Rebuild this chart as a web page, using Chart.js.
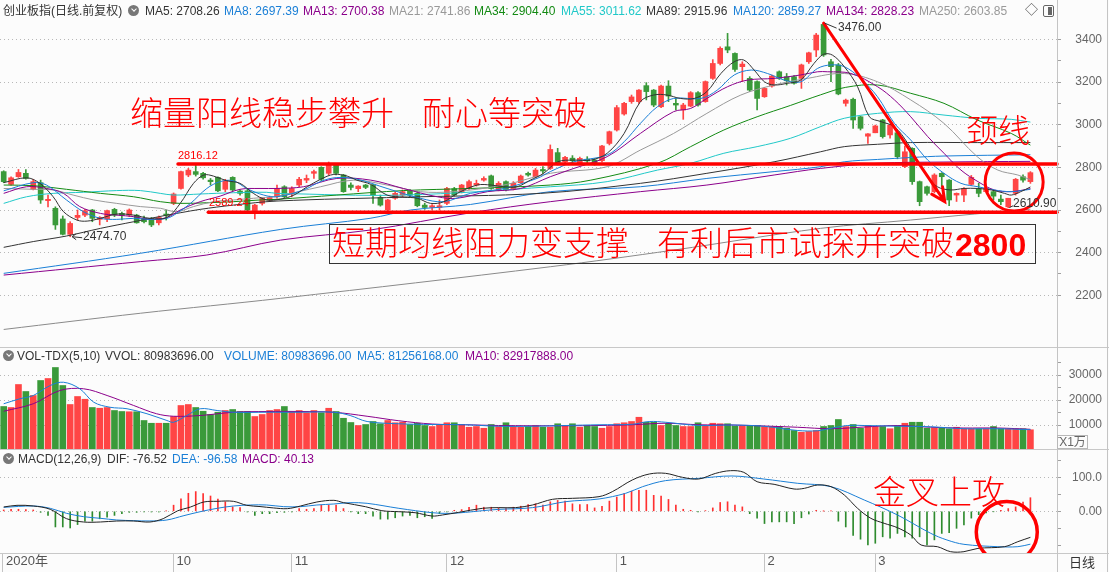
<!DOCTYPE html>
<html lang="zh-CN">
<head>
<meta charset="utf-8">
<title>创业板指 日线</title>
<script src="https://cdn.jsdelivr.net/npm/chart.js@4.4.1/dist/chart.umd.min.js"></script>
<style>
  html, body { margin: 0; padding: 0; background: #fcfcfc; }
  #board {
    position: relative; width: 1109px; height: 572px; overflow: hidden; background: #fcfcfc;
    font-family: "Liberation Sans", Arial, "Noto Sans CJK SC", sans-serif; font-size: 12px; color: #333;
  }
  #board canvas { position: absolute; left: 0; }
  #priceChart { top: 0; }
  #volChart { top: 347px; }
  #macdChart { top: 450px; }
  .t { position: absolute; white-space: nowrap; line-height: 14px; }
  .hl { position: absolute; left: 0; width: 1109px; height: 1px; background: #c8c8c8; }
  .vl { position: absolute; top: 0; width: 1px; height: 572px; background: #c4c4c4; }
  .knob { position: absolute; width: 11px; height: 11px; border-radius: 50%; background: #777; }
  .knob::after { content: ''; position: absolute; left: 3.5px; top: 2px; width: 3px; height: 3px;
    border-right: 1.5px solid #fff; border-bottom: 1.5px solid #fff; transform: rotate(45deg); }
  .note { position: absolute; white-space: nowrap; color: #ff0000; font-family: "Noto Sans CJK SC", sans-serif;
    font-weight: 300; font-size: 33px; line-height: 33px; }
  .tag { position: absolute; white-space: nowrap; font-size: 11px; line-height: 13px; }
</style>
</head>
<body>
<div id="board">
  <canvas id="priceChart" width="1109" height="347"></canvas>
  <canvas id="volChart" width="1109" height="103"></canvas>
  <canvas id="macdChart" width="1109" height="122"></canvas>

  <div class="hl" style="top:347px"></div>
  <div class="hl" style="top:449px"></div>
  <div class="hl" style="top:553px"></div>
  <div class="vl" style="left:1057px"></div>
  <div class="vl" style="left:1107px"></div>

  <!-- price header -->
  <span class="t" style="left:3px;top:4px">创业板指(日线.前复权)</span>
  <div class="knob" style="left:128px;top:5px"></div>
  <span class="t" style="left:145px;top:4px;color:#333">MA5: 2708.26</span>
  <span class="t" style="left:224px;top:4px;color:#1a7fd6">MA8: 2697.39</span>
  <span class="t" style="left:303px;top:4px;color:#8b008b">MA13: 2700.38</span>
  <span class="t" style="left:389px;top:4px;color:#999">MA21: 2741.86</span>
  <span class="t" style="left:474px;top:4px;color:#138a13">MA34: 2904.40</span>
  <span class="t" style="left:561px;top:4px;color:#20c8c8">MA55: 3011.62</span>
  <span class="t" style="left:646px;top:4px;color:#333">MA89: 2915.96</span>
  <span class="t" style="left:733px;top:4px;color:#1a7fd6">MA120: 2859.27</span>
  <span class="t" style="left:826px;top:4px;color:#8b008b">MA134: 2828.23</span>
  <span class="t" style="left:919px;top:4px;color:#999">MA250: 2603.85</span>
  <span class="t" style="left:1025px;top:3px;color:#555;font-size:13px">◇</span>
  <div style="position:absolute;left:1043px;top:5px;width:9px;height:10px;border:1px solid #666;border-radius:2px">
    <div style="position:absolute;right:1px;top:1px;width:4px;height:8px;background:#666"></div>
  </div>

  <!-- volume header -->
  <div class="knob" style="left:3px;top:350px"></div>
  <span class="t" style="left:17px;top:349px">VOL-TDX(5,10)</span>
  <span class="t" style="left:105px;top:349px">VVOL: 80983696.00</span>
  <span class="t" style="left:224px;top:349px;color:#1a7fd6">VOLUME: 80983696.00</span>
  <span class="t" style="left:357px;top:349px;color:#1a7fd6">MA5: 81256168.00</span>
  <span class="t" style="left:465px;top:349px;color:#8b008b">MA10: 82917888.00</span>
  <div style="position:absolute;left:1057px;top:435px;width:31px;height:14px;border:1px solid #b8b8b8;box-sizing:border-box;color:#666;font-size:12px;line-height:12px;text-align:center">X1万</div>

  <!-- macd header -->
  <div class="knob" style="left:3px;top:453px"></div>
  <span class="t" style="left:18px;top:452px">MACD(12,26,9)</span>
  <span class="t" style="left:107px;top:452px">DIF: -76.52</span>
  <span class="t" style="left:172px;top:452px;color:#1a7fd6">DEA: -96.58</span>
  <span class="t" style="left:242px;top:452px;color:#8b008b">MACD: 40.13</span>
  <div style="position:absolute;left:1057px;top:553px;width:50px;height:19px;color:#333;font-size:13px;line-height:19px;text-align:center">日线</div>

  <!-- price tags -->
  <span class="tag" style="left:178px;top:149px;color:#f00">2816.12</span>
  <span class="tag" style="left:209px;top:196px;color:#f00">2589.24</span>
  <span class="tag" style="left:83px;top:230px;font-size:12px;color:#333">2474.70</span>
  <span class="tag" style="left:838px;top:21px;font-size:12px;color:#333">3476.00</span>
  <span class="tag" style="left:1013px;top:197px;font-size:12px;color:#333">2610.90</span>

  <!-- hand-drawn notes -->
  <span class="note" style="left:130px;top:95px">缩量阳线稳步攀升</span>
  <span class="note" style="left:422px;top:95px">耐心等突破</span>
  <span class="note" style="left:966px;top:112px;font-size:32px">颈线</span>
  <div style="position:absolute;left:329px;top:224px;width:707px;height:40px;border:1px solid #333;box-sizing:border-box"></div>
  <span class="note" style="left:332px;top:225px">短期均线阻力变支撑</span>
  <span class="note" style="left:657px;top:225px">有利后市试探并突破</span>
  <span class="note" style="left:955px;top:229px;font-family:'Liberation Sans',Arial,sans-serif;font-weight:bold;font-size:32px;line-height:32px">2800</span>
  <span class="note" style="left:873px;top:474px">金叉上攻</span>
</div>

<script>
// 创业板指 daily bars, 2020-09 .. 2021-03 (140 sessions)
const opens = [
  2780, 2720, 2756, 2772, 2697, 2728, 2644, 2608, 2558, 2486,
  2565, 2576, 2600, 2556, 2558, 2603, 2584, 2576, 2576, 2561,
  2556, 2540, 2581, 2631, 2701, 2764, 2780, 2772, 2740, 2753,
  2697, 2753, 2689, 2690, 2597, 2631, 2647, 2662, 2709, 2675,
  2717, 2740, 2772, 2800, 2772, 2811, 2764, 2717, 2700, 2717,
  2717, 2659, 2600, 2655, 2670, 2690, 2678, 2623, 2612, 2612,
  2631, 2700, 2686, 2701, 2717, 2740, 2760, 2694, 2733, 2697,
  2728, 2772, 2756, 2790, 2795, 2869, 2826, 2843, 2819, 2838,
  2834, 2831, 2912, 2975, 3050, 3108, 3108, 3183, 3162, 3084,
  3181, 3100, 3069, 3087, 3150, 3108, 3217, 3287, 3365, 3334,
  3272, 3217, 3202, 3131, 3181, 3248, 3225, 3225, 3217, 3295,
  3350, 3470, 3295, 3280, 3100, 3119, 3037, 2946, 2962, 3022,
  2952, 2962, 2803, 2889, 2733, 2709, 2686, 2772, 2740, 2670,
  2670, 2720, 2701, 2686, 2686, 2651, 2615, 2678, 2756, 2733
];
const highs = [
  2784, 2755, 2790, 2790, 2744, 2740, 2670, 2615, 2572, 2545,
  2600, 2603, 2603, 2569, 2600, 2608, 2590, 2605, 2580, 2572,
  2565, 2572, 2600, 2680, 2782, 2795, 2816.12, 2776, 2748, 2756,
  2744, 2756, 2694, 2697, 2626, 2659, 2665, 2717, 2714, 2709,
  2753, 2764, 2787, 2803, 2825, 2816, 2767, 2727, 2714, 2720,
  2720, 2670, 2650, 2686, 2694, 2697, 2686, 2632, 2625, 2647,
  2706, 2706, 2720, 2740, 2740, 2756, 2764, 2733, 2737, 2733,
  2764, 2778, 2795, 2803, 2905, 2889, 2852, 2855, 2848, 2850,
  2840, 2903, 2970, 3090, 3105, 3139, 3165, 3197, 3165, 3186,
  3206, 3123, 3100, 3155, 3155, 3205, 3305, 3365, 3428, 3337,
  3295, 3225, 3205, 3175, 3232, 3252, 3240, 3230, 3284, 3340,
  3428, 3476, 3306, 3287, 3120, 3125, 3040, 2958, 2998, 3025,
  3002, 2965, 2900, 2892, 2736, 2712, 2770, 2775, 2743, 2680,
  2705, 2762, 2725, 2706, 2690, 2670, 2655, 2748, 2765, 2780
];
const lows = [
  2728, 2716, 2753, 2745, 2694, 2631, 2615, 2509, 2483, 2474.7,
  2553, 2569, 2545, 2530, 2545, 2569, 2553, 2569, 2538, 2540,
  2522, 2530, 2553, 2625, 2698, 2756, 2759, 2745, 2717, 2686,
  2686, 2690, 2670, 2597, 2558, 2623, 2640, 2655, 2658, 2662,
  2709, 2728, 2748, 2737, 2764, 2764, 2683, 2694, 2686, 2700,
  2631, 2618, 2593, 2650, 2662, 2662, 2615, 2603, 2600, 2600,
  2625, 2665, 2680, 2697, 2712, 2735, 2697, 2690, 2690, 2694,
  2725, 2758, 2752, 2772, 2790, 2811, 2815, 2820, 2815, 2817,
  2810, 2825, 2905, 2970, 3045, 3100, 3100, 3116, 3084, 3080,
  3108, 3069, 3025, 3084, 3087, 3105, 3212, 3280, 3337, 3250,
  3202, 3155, 3069, 3128, 3176, 3212, 3186, 3190, 3170, 3287,
  3319, 3320, 3202, 3140, 3087, 2983, 2975, 2912, 2962, 2937,
  2937, 2840, 2798, 2720, 2620, 2670, 2680, 2710, 2620, 2640,
  2639, 2716, 2662, 2680, 2647, 2625, 2610.9, 2670, 2730, 2725
];
const closes = [
  2733, 2751, 2776, 2748, 2733, 2647, 2650, 2530, 2486, 2537,
  2575, 2597, 2561, 2565, 2597, 2576, 2575, 2600, 2540, 2545,
  2530, 2565, 2575, 2675, 2780, 2787, 2767, 2751, 2733, 2690,
  2737, 2694, 2678, 2600, 2623, 2655, 2659, 2701, 2662, 2701,
  2744, 2748, 2780, 2744, 2811, 2772, 2686, 2706, 2712, 2706,
  2670, 2623, 2647, 2678, 2686, 2670, 2620, 2612, 2620, 2620,
  2701, 2670, 2717, 2733, 2725, 2748, 2701, 2725, 2694, 2725,
  2759, 2764, 2787, 2783, 2884, 2819, 2847, 2831, 2842, 2830,
  2815, 2900, 2967, 3080, 3100, 3130, 3162, 3155, 3092, 3181,
  3134, 3092, 3092, 3150, 3092, 3202, 3287, 3358, 3350, 3259,
  3284, 3162, 3123, 3170, 3228, 3217, 3206, 3194, 3280, 3337,
  3420, 3327, 3272, 3144, 3115, 3022, 2983, 2957, 2994, 2944,
  2998, 2850, 2873, 2733, 2639, 2678, 2764, 2756, 2647, 2678,
  2701, 2753, 2678, 2701, 2665, 2639, 2655, 2744, 2740, 2775
];
// volume in 万 (axis unit X1万)
const volumes = [
  17400, 17000, 26200, 23400, 21800, 27800, 28600, 33000, 25800, 18200,
  21400, 20300, 17000, 16700, 17000, 15800, 15400, 15300, 15300, 11800,
  10700, 10700, 10700, 13400, 17800, 18200, 17000, 15500, 14200, 15100,
  15800, 16200, 15400, 15400, 13400, 14200, 15800, 16200, 17400, 15400,
  15800, 14900, 15800, 14900, 16700, 15400, 12700, 11000, 9800, 10200,
  11400, 10500, 11800, 10900, 11100, 10200, 10700, 9800, 9400, 10200,
  10900, 10900, 10200, 9100, 9400, 8700, 10200, 9400, 10900, 9400,
  9100, 9400, 9800, 9100, 9100, 10500, 9800, 10500, 9100, 9800,
  9400, 8700, 9400, 10500, 10900, 11400, 13100, 11100, 11100, 9800,
  10700, 9800, 9400, 9400, 10900, 9800, 10700, 10500, 10500, 9500,
  9500, 9800, 9800, 9400, 9400, 9400, 8700, 7800, 7100, 7400,
  7800, 9400, 9800, 12200, 9400, 10200, 8700, 9800, 9400, 9400,
  8500, 9800, 10700, 11100, 11100, 8700, 8700, 8700, 8500, 9100,
  8500, 8500, 8500, 8500, 9400, 8500, 8500, 8500, 8500, 8098
];
const macdHist = [
  4, 6, 6, 5, 4, -3, -12, -46, -46, -49,
  -39, -29, -29, -22, -17, -12, -7, -3, -3, -2,
  -2, -2, 1, 18, 37, 53, 58, 52, 45, 36,
  28, 13, 11, -2, -12, -7, -7, -4, -3, -2,
  8, 6, 8, 18, 18, 18, 8, -1, -7, -7,
  -14, -23, -23, -19, -14, -12, -19, -16, -21, -7,
  -2, 3, 5, 12, 18, 12, 12, 10, 8, 12,
  15, 20, 22, 18, 28, 32, 30, 22, 20, 20,
  10, 15, 30, 42, 52, 59, 62, 62, 47, 45,
  35, 18, 6, 3, -1, 2, 10, 26, 28, 18,
  13, -7, -20, -36, -31, -31, -31, -36, -19, -8,
  3, 0.5, 1, -29, -46, -71, -82, -99, -94, -75,
  -79, -65, -75, -79, -75, -99, -84, -65, -63, -50,
  -40, -20, -10, -5, -1, 3, 8, 13, 27, 40
];
// MACD lines, [bar index, value]
const difLine = [[0,12.7],[1.8,17.6],[4,15.7],[6.3,5.9],[8.5,-21.6],[10.8,-31.4],[13.1,-31.4],[15.3,-28.5],[17.6,-28.5],
  [19.8,-31.4],[21.6,-21.6],[23.5,1],[25.3,12.7],[27.1,27.4],[28.9,29.4],[31.1,29.4],[32.9,17.6],[34.7,14],[36.5,10],
  [38.4,7.8],[40.2,15.7],[42.4,27.4],[44.7,32.3],[46,25.5],[49,13.5],[51.2,1.8],[53.5,-1.2],[55.7,-4.1],[58,-13.9],
  [59.4,-10.8],[61.6,-3.1],[64.8,8.8],[67,10.8],[69.3,10.8],[71.6,18.6],[74.3,35.3],[77,38.2],[80.6,43.1],[82.4,57.8],
  [85.1,92.1],[87.4,109.7],[89.6,111.7],[91.9,99.9],[94.1,95],[96.4,111.7],[98.4,119.5],[100.2,114.6],[102,87],
  [104.3,79.4],[107,65.6],[108.4,67.6],[110.2,77.4],[112,72.5],[113.8,48],[115.6,8.8],[117.4,-20.6],[119.2,-35.3],
  [121,-48.2],[122.8,-69.7],[124.2,-99.1],[126.4,-104],[128.2,-118.7],[130,-118.7],[131.9,-109],[135.5,-104],
  [137.3,-89.3],[139,-76.5]];
const deaLine = [[0,11.7],[4,15.6],[6.3,8.8],[8.5,-5.9],[10.8,-15.7],[13.1,-20.6],[15.3,-25.5],[17.6,-27.5],[19.8,-28.4],
  [22.1,-25.5],[24.4,-12.7],[26.6,-1.2],[28.9,8.8],[31.1,15.6],[33.4,18.6],[35.6,18.6],[37.9,13.7],[40.2,13.7],[42.4,18.6],
  [44.7,21.5],[46.9,25.4],[49.2,23.5],[53.5,8.8],[58,-4.1],[60.3,-6.1],[62.5,-3.1],[64.8,1.8],[67,5.7],[71.6,10.8],
  [76.1,28.4],[80.6,36.3],[84.2,52.9],[86.5,72.5],[89.6,90.2],[94.1,97],[98.6,103.9],[102.9,95],[107.5,82.3],[112,72.5],
  [116.5,33.3],[121,-10.8],[125.5,-64.7],[127.7,-84.3],[130,-97.1],[134.6,-104],[137.3,-104],[139,-96.6]];
// price moving averages, [bar index, value]
const ma5Line = [[0,2728],[3.1,2751],[4.9,2725],[6.7,2662],[8.1,2592],[9.9,2553],[11.3,2548],[13.1,2561],[15.3,2581],
  [17.6,2576],[19.8,2561],[22.1,2565],[23.9,2631],[25.7,2725],[27.1,2764],[28.4,2759],[30.2,2737],[32,2725],[33.8,2678],
  [35.6,2647],[37.5,2651],[39.3,2670],[41.1,2709],[42.9,2744],[44.7,2767],[46.5,2759],[47.8,2740],[49.7,2720],[51.9,2670],
  [54.2,2660],[56,2655],[57.8,2631],[59.6,2639],[61.4,2678],[64.1,2717],[66,2717],[67.7,2709],[69.5,2709],[71.3,2740],
  [73.1,2772],[75,2826],[77.2,2834],[79.5,2834],[81.7,2866],[84,2959],[86.2,3108],[88,3139],[89.8,3139],[91.6,3123],
  [93.5,3123],[95.2,3155],[97.1,3240],[98.9,3295],[100.2,3303],[101.6,3256],[103,3201],[104.3,3186],[106.1,3194],
  [107.9,3209],[109.7,3287],[111,3330],[112.2,3326],[113.8,3272],[115.6,3178],[117.2,3037],[118.8,3014],[120.6,2990],
  [122.4,2912],[124.2,2803],[125.1,2756],[126.4,2709],[128.2,2694],[130,2701],[131.8,2701],[133.7,2694],[135.5,2678],
  [136.4,2670],[137.7,2686],[139,2708]];
const ma8Line = [[0,2690],[4,2728],[5.8,2717],[8.5,2647],[10.8,2592],[13.1,2561],[15.3,2556],[17.6,2561],[19.8,2556],
  [22.1,2561],[23.4,2584],[25.3,2631],[27.5,2701],[29.3,2733],[31.1,2737],[32.9,2701],[35.2,2670],[37,2662],[40.6,2694],
  [43,2735],[45.1,2752],[47.8,2745],[51.9,2701],[56.4,2655],[59.6,2639],[63.2,2678],[67.7,2701],[72.2,2748],[74,2780],
  [77.2,2826],[81.7,2858],[84,2920],[86.2,3006],[88.5,3084],[90.7,3123],[94.4,3123],[96.6,3162],[98.9,3233],[101.2,3256],
  [103.4,3240],[105.7,3209],[107.9,3201],[110.2,3264],[112,3280],[113.8,3272],[116,3217],[118.3,3131],[120.6,3006],
  [122.8,2928],[125.1,2834],[127.3,2772],[129.6,2725],[131.9,2709],[134.1,2694],[136.4,2686],[139,2697]];
const ma13Line = [[0,2678],[3.1,2709],[5.8,2701],[8.1,2678],[10.3,2616],[13.1,2584],[15.3,2576],[17.6,2569],[19.8,2556],
  [22.1,2565],[23.9,2600],[26.6,2639],[29.3,2665],[32,2697],[34.7,2701],[37,2701],[40.6,2709],[45.1,2748],[49.7,2740],
  [54.1,2701],[58.7,2662],[61.4,2655],[65.5,2686],[70,2701],[74,2756],[77.2,2795],[81.7,2850],[86.2,2959],[90.7,3061],
  [93,3076],[95.2,3123],[98,3178],[100.7,3209],[104.3,3217],[107.9,3233],[110.2,3248],[111.5,3248],[114.7,3240],
  [118.3,3178],[120.6,3116],[122.8,3037],[125.1,2944],[127.3,2866],[129.6,2787],[131.9,2733],[134.1,2694],[136.4,2686],
  [139,2700]];
const ma21Line = [[0,2701],[4,2697],[6.7,2694],[9.4,2670],[12.2,2647],[15.3,2631],[18.5,2616],[21.2,2608],[23.4,2592],
  [25.7,2616],[28.4,2639],[31.1,2647],[33.8,2655],[37,2665],[42.9,2709],[47.4,2740],[51.9,2717],[56.4,2686],[60.9,2686],
  [67.7,2717],[74,2772],[81.7,2803],[86.2,2881],[90.7,2959],[95.2,3053],[99.8,3139],[104.3,3186],[108.8,3217],
  [113.8,3240],[118.3,3201],[122.8,3116],[127.3,3006],[131.8,2850],[134.6,2787],[137.3,2764],[139,2742]];
const ma34Line = [[0,2717],[4,2714],[8.5,2697],[13.1,2678],[17.6,2662],[21.2,2639],[23.9,2631],[27.5,2634],[31.1,2639],
  [34.7,2647],[37,2650],[45.1,2670],[54.1,2691],[63.2,2701],[74,2717],[79.5,2740],[88.5,2819],[93,2897],[97.5,2975],
  [102,3037],[106.5,3090],[110.6,3140],[114,3175],[118.3,3186],[122.8,3147],[127.3,3100],[131.8,3022],[136.4,2959],
  [139,2904]];
const ma55Line = [[0,2631],[3.1,2662],[6.7,2678],[10.8,2683],[15.3,2691],[18.5,2691],[21.2,2678],[23,2670],[26.6,2675],
  [31.1,2681],[35.6,2683],[37,2678],[54.1,2670],[74,2709],[81.7,2733],[88.5,2787],[93,2819],[97.5,2866],[102,2897],
  [106.5,2936],[110.6,2991],[113.8,3030],[118.3,3053],[122.8,3061],[127.3,3045],[131.8,3030],[136.4,3025],[139,3012]];
const ma89Line = [[0,2425],[4,2452],[8.5,2478],[13.1,2514],[17.6,2545],[22.1,2576],[23.9,2587],[26.6,2603],[31.1,2623],
  [37,2642],[54,2660],[72.7,2678],[86.2,2725],[95.2,2772],[104.3,2826],[110.6,2873],[113.8,2897],[118.3,2908],
  [122.8,2916],[131.8,2916],[139,2916]];
const ma120Line = [[0,2303],[18.5,2397],[37.5,2509],[49.6,2561],[55.1,2600],[63.2,2626],[74,2686],[86.2,2709],[95.2,2748],
  [104.3,2780],[110.6,2803],[113.8,2826],[118.3,2837],[122.8,2846],[127.3,2853],[139,2859]];
const ma134Line = [[0,2295],[18.5,2358],[27.5,2389],[37.5,2459],[49.6,2506],[63.2,2587],[74,2639],[86.2,2686],[95.2,2717],
  [104.3,2764],[110.6,2795],[118.3,2819],[127.3,2825],[139,2828]];
const ma250Line = [[0,2040],[18.5,2116],[37.5,2186],[74,2334],[90.7,2412],[110.6,2514],[122.8,2553],[131.4,2581],[139,2604]];
// volume moving averages, [bar index, value]
const volMa5Line = [[0,18500],[2.2,20500],[4,21800],[6.3,25800],[8.1,27100],[10.3,24500],[12.2,19100],[14.4,17100],
  [16.7,16500],[19.4,14500],[22.1,11800],[23,11100],[24.8,13800],[26.6,16500],[28.9,15800],[31.1,15100],[35.6,15100],
  [40.2,15100],[44.7,15100],[46.9,13800],[49.2,11400],[53.5,10500],[58,10200],[62.5,10100],[67,9500],[71.6,9500],
  [76.1,9800],[80.6,10100],[85.1,10300],[87.4,11400],[89.6,11100],[94.1,9800],[98.6,10000],[102.9,9500],[107.5,7800],
  [110.2,7700],[112,8700],[114.2,9800],[116.5,9800],[121,9500],[125.5,9300],[130,8500],[134.6,8500],[139,8126]];
const volMa10Line = [[0,15500],[4,18500],[7.6,23800],[10.8,24500],[14,21800],[17.6,17800],[20.7,14500],[23,13500],
  [26.6,13800],[31.1,15100],[35.6,15400],[40.2,15400],[44.7,15100],[49.2,13500],[53.5,11700],[58,10400],[62.5,10100],
  [67,9800],[71.6,9700],[76.1,9700],[80.6,9800],[85.1,10100],[89.6,10700],[94.1,10100],[98.6,10000],[107.5,9100],
  [112,8500],[116.5,9200],[121,9800],[125.5,9100],[130,8800],[134.6,8800],[139,8292]];

// axis labels
const monthTicks = [-0.1, 23, 39, 60, 83, 103, 118];
const monthLabels = ['2020年', '10', '11', '12', '1', '2', '3'];
const priceTicks = [2200, 2400, 2600, 2800, 3000, 3200, 3400];
const volTicks = [10000, 20000, 30000];
const macdTicks = [0, 100];
const macdTickLabels = ['0.00', '100.0'];

// hand-drawn marks, in data units
const levelLines = [{ value: 2816.12, from: 23.6 }, { value: 2589.24, from: 27.7 }];
const trendArrow = { from: [111, 3476], to: [127.4, 2639] };
const priceRing = { x: 136.8, y: 2731, r: 29 };
const macdRing = { x: 135.8, y: -61, r: 30.5 };

const X_MIN = -0.5, X_MAX = 142.6;
const UP = '#ff4545', DOWN = '#3a9a3a';
const GRID = '#b8b8b8';

Chart.defaults.font.family = '"Liberation Sans", Arial, sans-serif';
Chart.defaults.font.size = 12;
Chart.defaults.color = '#666';

const candleColors = closes.map((c, i) => (c >= opens[i] ? UP : DOWN));
const pts = arr => arr.map(([x, y]) => ({ x, y }));

function lineSet(arr, color, width = 1) {
  return { type: 'line', data: pts(arr), borderColor: color, borderWidth: width, pointRadius: 0,
           tension: 0.35, fill: false, order: 0 };
}

function hiddenX() {
  return { type: 'linear', min: X_MIN, max: X_MAX, offset: false, display: false, grid: { offset: false } };
}

function sideAxis(min, max, allTicks, labelled, fmt) {
  return {
    type: 'linear', position: 'right', min, max,
    afterBuildTicks: s => { s.ticks = allTicks.map(v => ({ value: v })); },
    afterFit: s => { s.width = 45; s.paddingTop = 0; s.paddingBottom = 0; },
    border: { display: false, dash: [1, 3] },
    grid: {
      color: c => (c.tick && labelled.includes(c.tick.value) ? GRID : 'rgba(0,0,0,0)'),
      tickColor: '#a0a0a0', tickLength: 4
    },
    ticks: {
      autoSkip: false, crossAlign: 'far', color: '#666', font: { size: 12 },
      callback: v => { const k = labelled.indexOf(v); return k < 0 ? '' : fmt(v, k); }
    }
  };
}

function steps(lo, hi, step) {
  const out = [];
  for (let v = lo; v <= hi; v += step) out.push(v);
  return out;
}

const base = {
  responsive: false, maintainAspectRatio: false, animation: false, devicePixelRatio: 1, events: [],
  layout: { padding: { left: 0, right: 7, top: 0, bottom: 0 } },
  plugins: { legend: { display: false }, tooltip: { enabled: false } }
};

const priceMarks = {
  id: 'priceMarks',
  afterDatasetsDraw(chart) {
    const { ctx, chartArea: a, scales: { x, y } } = chart;
    ctx.save();
    ctx.strokeStyle = '#ff0000';
    ctx.lineCap = 'round';
    ctx.lineWidth = 3.5;
    levelLines.forEach(l => {
      const py = y.getPixelForValue(l.value);
      ctx.beginPath();
      ctx.moveTo(x.getPixelForValue(l.from), py);
      ctx.lineTo(a.right, py);
      ctx.stroke();
    });

    const x1 = x.getPixelForValue(trendArrow.from[0]), y1 = y.getPixelForValue(trendArrow.from[1]);
    const x2 = x.getPixelForValue(trendArrow.to[0]), y2 = y.getPixelForValue(trendArrow.to[1]);
    const ang = Math.atan2(y2 - y1, x2 - x1);
    ctx.lineWidth = 3;
    ctx.beginPath();
    ctx.moveTo(x1, y1);
    ctx.lineTo(x2, y2);
    ctx.moveTo(x2 - 15 * Math.cos(ang - 0.45), y2 - 15 * Math.sin(ang - 0.45));
    ctx.lineTo(x2, y2);
    ctx.lineTo(x2 - 15 * Math.cos(ang + 0.45), y2 - 15 * Math.sin(ang + 0.45));
    ctx.stroke();

    ctx.beginPath();
    ctx.arc(x.getPixelForValue(priceRing.x), y.getPixelForValue(priceRing.y), priceRing.r, 0, Math.PI * 2);
    ctx.stroke();

    // little leaders from the extreme bars to their price tags
    ctx.strokeStyle = '#333';
    ctx.lineWidth = 1;
    ctx.lineCap = 'butt';
    const lo = { px: x.getPixelForValue(9), py: y.getPixelForValue(lows[9]) };
    ctx.beginPath();
    ctx.moveTo(lo.px + 2, lo.py); ctx.lineTo(lo.px + 12, lo.py + 1);
    ctx.moveTo(lo.px + 6, lo.py - 3); ctx.lineTo(lo.px + 2, lo.py); ctx.lineTo(lo.px + 6, lo.py + 3);
    const hi = { px: x.getPixelForValue(111), py: y.getPixelForValue(highs[111]) };
    ctx.moveTo(hi.px + 1, hi.py); ctx.lineTo(hi.px + 13, hi.py + 5);
    const lo2 = { px: x.getPixelForValue(136), py: y.getPixelForValue(lows[136]) };
    ctx.moveTo(lo2.px + 1, lo2.py); ctx.lineTo(lo2.px + 5, lo2.py - 2);
    ctx.stroke();
    ctx.restore();
  }
};

const macdMarks = {
  id: 'macdMarks',
  afterDatasetsDraw(chart) {
    const { ctx, chartArea: a, scales: { x, y } } = chart;
    ctx.save();
    ctx.beginPath();
    ctx.rect(a.left, a.top, a.right - a.left, a.bottom - a.top);
    ctx.clip();
    ctx.strokeStyle = '#ff0000';
    ctx.lineWidth = 3.5;
    ctx.beginPath();
    ctx.arc(x.getPixelForValue(macdRing.x), y.getPixelForValue(macdRing.y), macdRing.r, 0, Math.PI * 2);
    ctx.stroke();
    ctx.restore();
  }
};

// ---- price pane ----
new Chart(document.getElementById('priceChart'), {
  type: 'bar',
  data: {
    datasets: [
      lineSet(ma5Line, '#333333'),
      lineSet(ma8Line, '#1a7fd6'),
      lineSet(ma13Line, '#8b008b'),
      lineSet(ma21Line, '#999999'),
      lineSet(ma34Line, '#138a13'),
      lineSet(ma55Line, '#20c8c8'),
      lineSet(ma89Line, '#333333'),
      lineSet(ma120Line, '#1a7fd6'),
      lineSet(ma134Line, '#8b008b'),
      lineSet(ma250Line, '#8a8a8a'),
      { type: 'bar', data: lows.map((l, i) => ({ x: i, y: [l, highs[i]] })), backgroundColor: candleColors,
        barThickness: 1, grouped: false, borderWidth: 0, order: 2 },
      { type: 'bar', data: opens.map((o, i) => ({ x: i, y: [o, closes[i]] })), backgroundColor: candleColors,
        barThickness: 5, grouped: false, borderWidth: 0, minBarLength: 1, order: 1 }
    ]
  },
  options: {
    ...base,
    scales: {
      x: hiddenX(),
      y: sideAxis(1957.8, 3584.4, steps(2200, 3400, 100), priceTicks, v => String(v))
    }
  },
  plugins: [priceMarks]
});

// ---- volume pane ----
new Chart(document.getElementById('volChart'), {
  type: 'bar',
  data: {
    datasets: [
      lineSet(volMa5Line, '#1a7fd6'),
      lineSet(volMa10Line, '#8b008b'),
      { type: 'bar', data: volumes.map((v, i) => ({ x: i, y: v })), backgroundColor: candleColors,
        barThickness: 6, grouped: false, borderWidth: 0, order: 1 }
    ]
  },
  options: {
    ...base,
    scales: {
      x: hiddenX(),
      y: sideAxis(0, 41200, steps(5000, 35000, 5000), volTicks, v => String(v))
    }
  }
});

// ---- MACD pane with the date axis ----
new Chart(document.getElementById('macdChart'), {
  type: 'bar',
  data: {
    datasets: [
      lineSet(difLine, '#222222'),
      lineSet(deaLine, '#1a7fd6'),
      { type: 'bar', data: macdHist.map((v, i) => ({ x: i, y: v })),
        backgroundColor: macdHist.map(v => (v >= 0 ? '#ff3030' : '#2e8b2e')),
        barThickness: 1, grouped: false, borderWidth: 0, order: 1 }
    ]
  },
  options: {
    ...base,
    scales: {
      x: {
        type: 'linear', min: X_MIN, max: X_MAX, offset: false, position: 'bottom',
        afterBuildTicks: s => { s.ticks = monthTicks.map(v => ({ value: v })); },
        afterFit: s => { s.height = 19; s.paddingLeft = 0; s.paddingRight = 0; },
        grid: { offset: false, drawOnChartArea: false, tickLength: 19, tickColor: '#c4c4c4' },
        border: { display: true, color: '#c0c0c0' },
        ticks: { autoSkip: false, maxRotation: 0, minRotation: 0, align: 'start', labelOffset: 3, padding: -18,
                 color: '#555', font: { size: 13 }, callback: (v, i) => monthLabels[i] }
      },
      y: sideAxis(-122.6, 180.3, steps(-100, 150, 50), macdTicks, (v, k) => macdTickLabels[k])
    }
  },
  plugins: [macdMarks]
});
</script>
</body>
</html>
